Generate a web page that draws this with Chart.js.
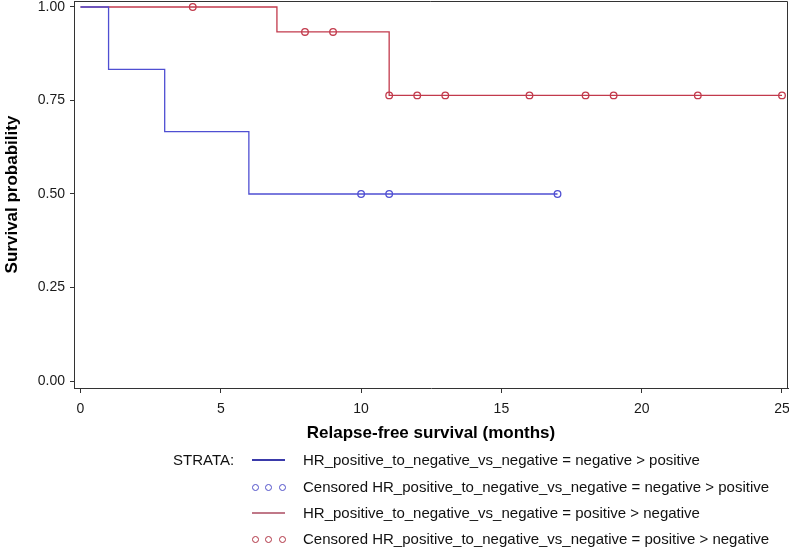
<!DOCTYPE html>
<html>
<head>
<meta charset="utf-8">
<script src="https://cdn.jsdelivr.net/npm/chart.js@4/dist/chart.umd.min.js"></script>
<style>
  html, body { margin: 0; padding: 0; background: #fff; }
  #wrap { position: relative; width: 789px; height: 548px; font-family: 'Liberation Sans', Arial, sans-serif; }
  #chart { position: absolute; left: 0; top: 0; }
  #legend { position: absolute; left: 0; top: 0; width: 789px; height: 548px; pointer-events: none; color: #111; font-size: 15px; }
  .strata { position: absolute; left: 173px; top: 451px; line-height: 18px; }
  .row { position: absolute; left: 0; height: 18px; width: 789px; }
  .row .txt { position: absolute; left: 303px; top: 0; line-height: 18px; white-space: nowrap; }
  .row .ln { position: absolute; left: 252px; top: 8px; width: 33px; height: 0; border-top: 2px solid; }
  .row .dot { position: absolute; top: 6px; width: 5px; height: 5px; border: 1.2px solid; border-radius: 50%; }
</style>
</head>
<body>
<div id="wrap">
  <canvas id="chart" width="789" height="548"></canvas>
  <div id="legend"></div>
</div>
<script>
// Kaplan-Meier steps, negative > positive
const negTimes = [0, 1, 3, 6, 17];
const negSurv = [1, 0.8333, 0.6667, 0.5, 0.5];
const negCensorTimes = [10, 11, 17];
const negCensorSurv = [0.5, 0.5, 0.5];

// positive > negative
const posTimes = [0, 7, 11, 25];
const posSurv = [1, 0.9333, 0.7636, 0.7636];
const posCensorTimes = [4, 8, 9, 11, 12, 13, 16, 18, 19, 22, 25];
const posCensorSurv = [1, 0.9333, 0.9333, 0.7636, 0.7636, 0.7636, 0.7636, 0.7636, 0.7636, 0.7636, 0.7636];

const xTicks = [0, 5, 10, 15, 20, 25];
const yTicks = [0, 0.25, 0.5, 0.75, 1];

const legendLabels = [
  'HR_positive_to_negative_vs_negative = negative > positive',
  'Censored HR_positive_to_negative_vs_negative = negative > positive',
  'HR_positive_to_negative_vs_negative = positive > negative',
  'Censored HR_positive_to_negative_vs_negative = positive > negative'
];

const blue = '#4f4fd2';
const red = '#c23a4c';

const toPoints = (xs, ys) => xs.map((x, i) => ({ x, y: ys[i] }));

Chart.defaults.font.family = "'Liberation Sans', Arial, sans-serif";
Chart.defaults.color = '#1a1a1a';

// top and right sides of the plot frame
const boxPlugin = {
  id: 'box',
  afterDatasetsDraw(chart) {
    const { ctx, chartArea: a } = chart;
    ctx.save();
    ctx.strokeStyle = '#333';
    ctx.lineWidth = 1;
    ctx.beginPath();
    ctx.moveTo(a.left, a.top + 0.5);
    ctx.lineTo(a.right - 0.5, a.top + 0.5);
    ctx.lineTo(a.right - 0.5, a.bottom);
    ctx.stroke();
    ctx.restore();
  }
};

new Chart(document.getElementById('chart'), {
  type: 'scatter',
  data: {
    datasets: [
      { data: toPoints(negTimes, negSurv), showLine: true, stepped: true, borderColor: blue, borderWidth: 1.3, pointRadius: 0 },
      { data: toPoints(posTimes, posSurv), showLine: true, stepped: true, borderColor: red, borderWidth: 1.3, pointRadius: 0 },
      { data: toPoints(negCensorTimes, negCensorSurv), showLine: false, pointStyle: 'circle', pointRadius: 3.3, borderColor: blue, backgroundColor: 'rgba(0,0,0,0)', borderWidth: 1.3 },
      { data: toPoints(posCensorTimes, posCensorSurv), showLine: false, pointStyle: 'circle', pointRadius: 3.3, borderColor: red, backgroundColor: 'rgba(0,0,0,0)', borderWidth: 1.3 }
    ]
  },
  options: {
    responsive: false,
    animation: false,
    layout: { autoPadding: false, padding: { top: 1, right: 1, left: 0, bottom: 100 } },
    plugins: { legend: { display: false }, tooltip: { enabled: false } },
    scales: {
      x: {
        type: 'linear',
        min: -0.232,
        max: 25.214,
        afterBuildTicks: (s) => { s.ticks = xTicks.map((v) => ({ value: v })); },
        afterFit: (s) => { s.height = 60; s.paddingLeft = 0; s.paddingRight = 0; },
        ticks: { font: { size: 14 }, padding: 8, maxRotation: 0 },
        grid: { drawOnChartArea: false, tickLength: 5, color: '#333' },
        border: { color: '#333', width: 1 },
        title: { display: true, text: 'Relapse-free survival (months)', font: { size: 17, weight: 'bold' }, color: '#000' }
      },
      y: {
        min: -0.0187,
        max: 1.016,
        afterBuildTicks: (s) => { s.ticks = yTicks.map((v) => ({ value: v })); },
        afterFit: (s) => { s.width = 74; s.paddingTop = 0; s.paddingBottom = 0; },
        ticks: { font: { size: 14 }, padding: 5, callback: (v) => Number(v).toFixed(2) },
        grid: { drawOnChartArea: false, tickLength: 4, color: '#333' },
        border: { color: '#333', width: 1 },
        title: { display: true, text: 'Survival probability', font: { size: 17, weight: 'bold' }, color: '#000', padding: { top: 2, bottom: 2 } }
      }
    }
  },
  plugins: [boxPlugin]
});

// legend below the plot
const legend = document.getElementById('legend');
const rowTops = [451, 478, 504, 530];
const sampleColors = ['#3a3aaa', '#5050c8', '#c07888', '#b03444'];
legend.innerHTML = '<div class="strata">STRATA:</div>' + legendLabels.map((label, i) => {
  const isDots = i % 2 === 1;
  const sample = isDots
    ? [255, 268, 282].map((cx) => `<span class="dot" style="left:${cx - 3}px;border-color:${sampleColors[i]}"></span>`).join('')
    : `<span class="ln" style="border-color:${sampleColors[i]}"></span>`;
  return `<div class="row" style="top:${rowTops[i]}px">${sample}<span class="txt">${label}</span></div>`;
}).join('');
</script>
</body>
</html>
